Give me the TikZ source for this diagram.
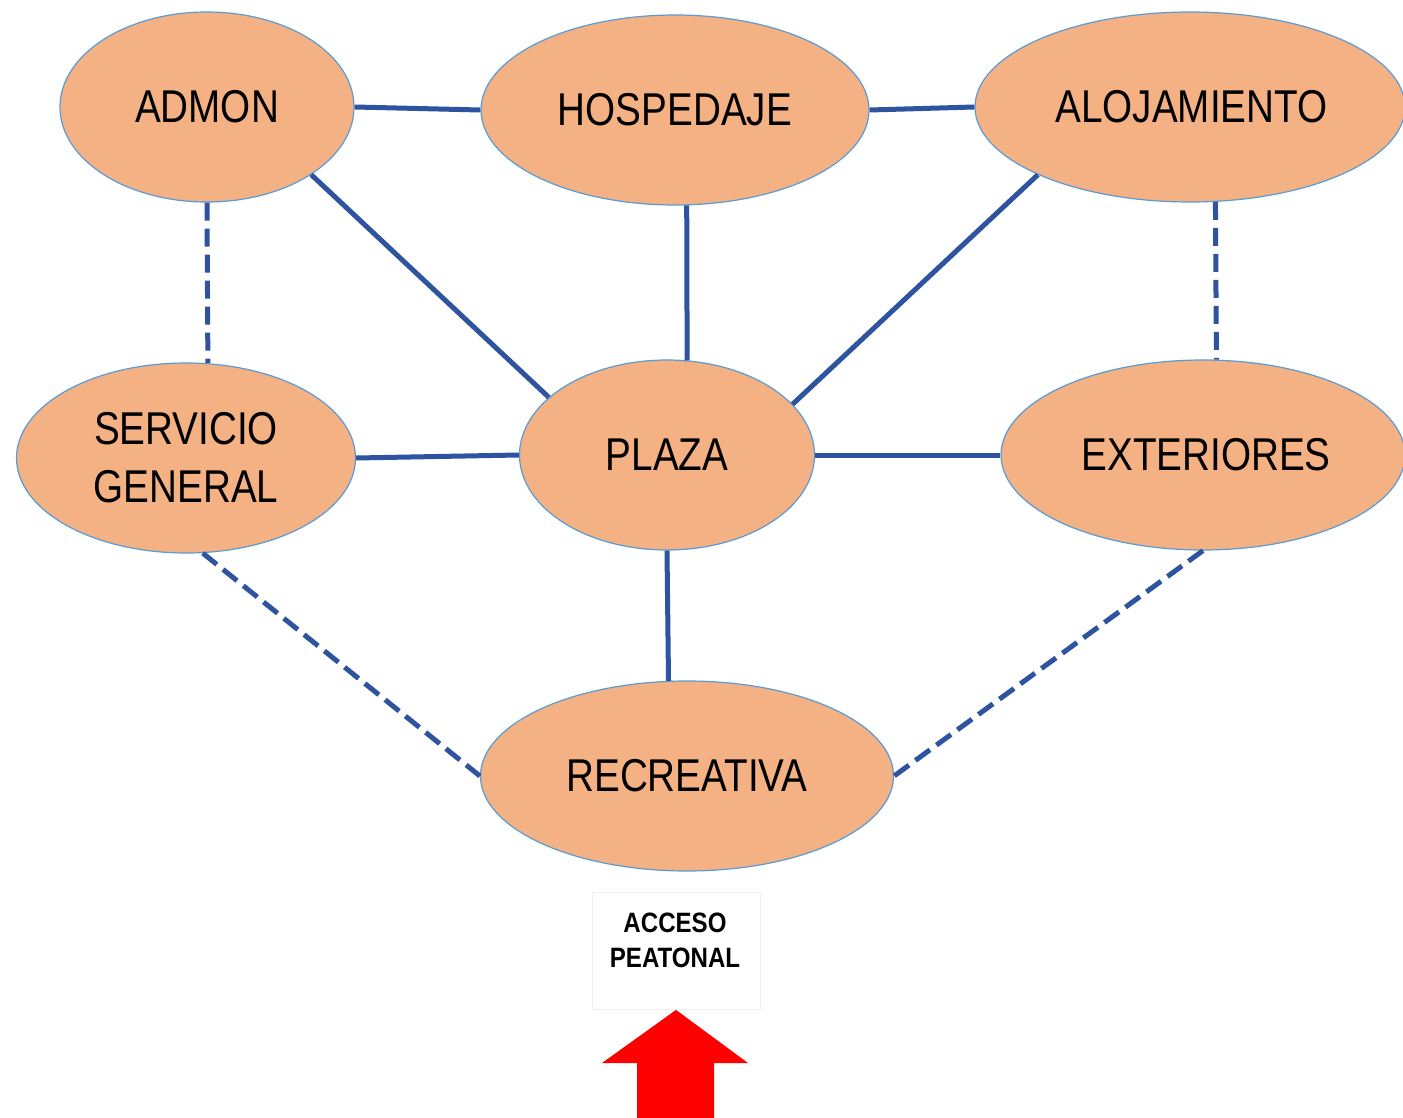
\documentclass[tikz,border=0pt]{standalone}
\usepackage{fontspec}
\setmainfont{Liberation Sans}
\newfontfamily\nodefont[FakeStretch=0.84]{Liberation Sans}
\newfontfamily\labfont[FakeStretch=0.86]{Liberation Sans}
\usetikzlibrary{shapes.geometric}
\definecolor{zfill}{HTML}{F4B183}
\definecolor{zborder}{HTML}{5B9BD5}
\definecolor{linkblue}{HTML}{2E54A0}
\definecolor{arrred}{HTML}{FF0000}
\tikzset{
  zone/.style={ellipse, fill=zfill, draw=zborder, line width=1.2pt, inner sep=0pt,
    font=\nodefont\fontsize{46}{58}\selectfont, align=center, text=black},
  link/.style={draw=linkblue, line width=5pt},
  weak/.style={link, dash pattern=on 18pt off 8pt},
}
\begin{document}
\begin{tikzpicture}[x=1pt,y=-1pt]
\useasboundingbox (0,0) rectangle (1403,1118);
\clip (0,0) rectangle (1403,1118);
\fill[white] (0,0) rectangle (1403,1118);

% links (drawn first, under the ellipses)
\node[zone, minimum width=294pt, minimum height=190pt] (admon) at (207,107) {ADMON};
\node[zone, minimum width=388pt, minimum height=190pt] (hosp) at (675,110) {HOSPEDAJE};
\node[zone, minimum width=430pt, minimum height=190pt] (aloj) at (1190,107) {\hspace*{3pt}ALOJAMIENTO};
\node[zone, minimum width=339pt, minimum height=190pt] (serv) at (186,458) {SERVICIO\\GENERAL};
\node[zone, minimum width=295pt, minimum height=190pt] (plaza) at (667,455) {PLAZA};
\node[zone, minimum width=404pt, minimum height=190pt] (ext) at (1203,455) {\hspace*{6pt}EXTERIORES};
\node[zone, minimum width=413pt, minimum height=190pt] (recr) at (687,776) {RECREATIVA};

\draw[link] (admon.east) -- (hosp.west);
\draw[link] (hosp.east) -- (aloj.west);
\draw[link] (admon.-33) -- (plaza.154);
\draw[link] (hosp.-83) -- (plaza.78);
\draw[link] (aloj.-156) -- (plaza.22);
\draw[link] (serv.east) -- (plaza.west);
\draw[link] (plaza.east) -- (ext.west);
\draw[link] (plaza.south) -- (recr.101);
\draw[weak] (admon.-90) -- (serv.77);
\draw[weak] (aloj.-75) -- (ext.82);
\draw[weak] (serv.-80) -- (recr.west);
\draw[weak] (ext.south) -- (recr.east);

% access label and arrow
\node[draw=black!6, fill=white, line width=0.8pt, minimum width=168pt, minimum height=117pt, inner sep=0pt] (accbox) at (676,951) {};
\node[font=\labfont\bfseries\fontsize{28}{35}\selectfont, align=center, inner sep=0pt] (acc) at (675,940) {ACCESO\\PEATONAL};
\coordinate (tip) at (accbox.south);
\fill[arrred] (tip) -- (748,1063) -- (714,1063) -- (714,1125) -- (637,1125) -- (637,1063) -- (602,1063) -- cycle;
\end{tikzpicture}
\end{document}
